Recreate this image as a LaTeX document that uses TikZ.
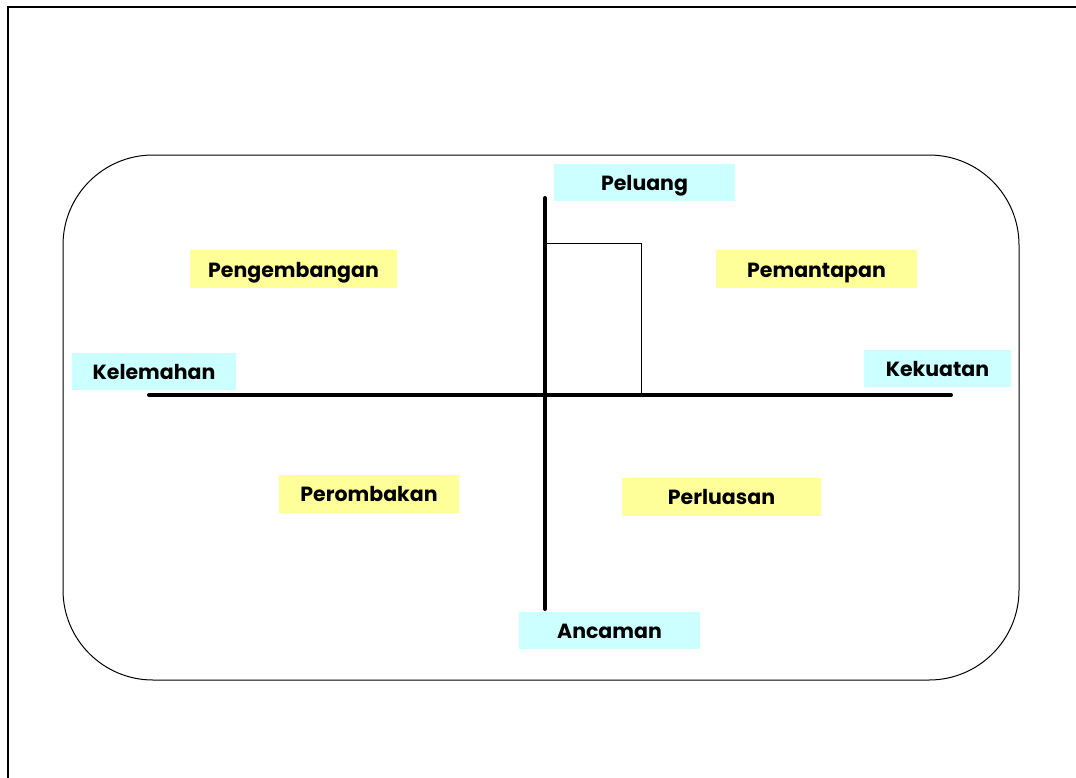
\documentclass[tikz,border=0pt]{standalone}
\usepackage{fontspec}
\setmainfont{Poppins}
\definecolor{lcyan}{HTML}{CCFFFF}
\definecolor{lyellow}{HTML}{FFFF99}
\begin{document}
\begin{tikzpicture}[x=1pt,y=-1pt,
  labelbox/.style={draw=none, inner sep=0pt, text height=16.5pt, text depth=0pt, font=\bfseries\fontsize{20.5}{22}\selectfont},
  cyanbox/.style={labelbox, fill=lcyan, minimum height=37pt},
  yellowbox/.style={labelbox, fill=lyellow, minimum height=38pt},
  axis/.style={line width=4pt, line cap=round}]
\useasboundingbox (0,0) rectangle (1076,777);
\fill[white] (0,0) rectangle (1076,777);
\draw[line width=2pt] (8,1200) -- (8,7) -- (1200,7);
\draw[line width=1pt, rounded corners=90pt] (63,155) rectangle (1019,680);
\coordinate (vt) at (545,198);
\coordinate (vb) at (545,609);
\coordinate (hl) at (149,395);
\coordinate (hr) at (951,395);
\coordinate (ra) at (545,243);
\coordinate (rb) at (641,243);
\coordinate (rc) at (641,395);
\draw[line width=0.8pt] (ra) -- (rb) -- (rc);
\draw[axis] (hl) -- (hr);
\draw[axis] (vt) -- (vb);
\node[cyanbox, minimum width=181pt] (peluang) at (644.5,182.5) {Peluang};
\node[cyanbox, minimum width=164pt] (kelemahan) at (154,371.5) {Kelemahan};
\node[cyanbox, minimum width=147pt] (kekuatan) at (937.5,368) {Kekuatan};
\node[cyanbox, minimum width=181pt] (ancaman) at (609.5,630) {Ancaman};
\node[yellowbox, minimum width=207pt] (pengembangan) at (293.5,269) {Pengembangan};
\node[yellowbox, minimum width=201pt] (pemantapan) at (816.5,269) {Pemantapan};
\node[yellowbox, minimum width=180pt] (perombakan) at (369,493.5) {Perombakan};
\node[yellowbox, minimum width=199pt] (perluasan) at (721.5,496.5) {Perluasan};
\end{tikzpicture}
\end{document}
